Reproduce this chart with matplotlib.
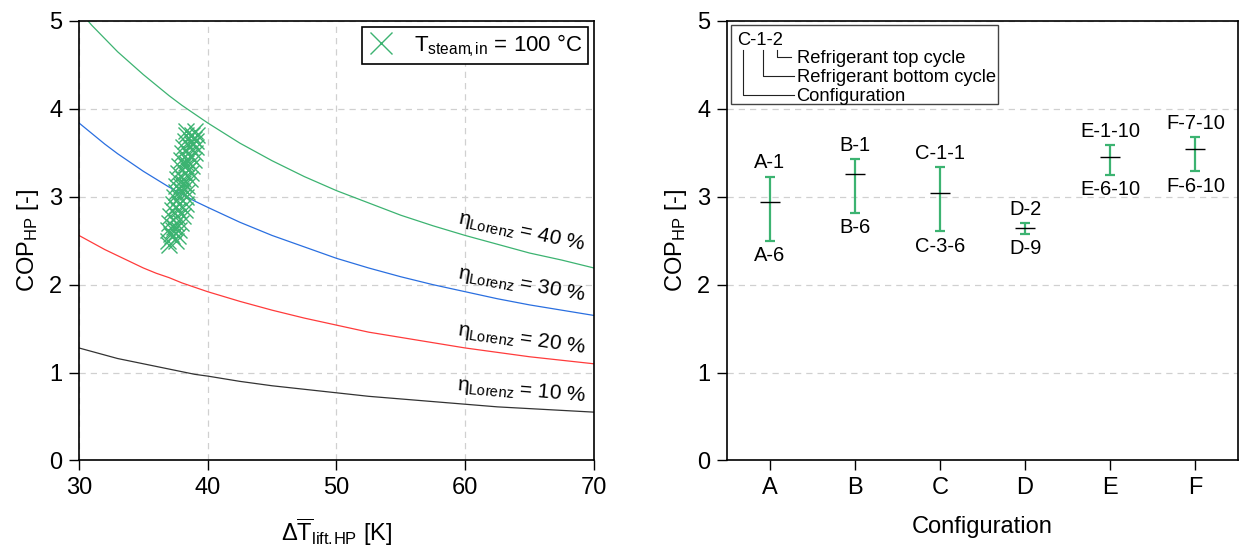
import numpy as np
import matplotlib.pyplot as plt

plt.rcParams['font.family'] = ['Liberation Sans', 'DejaVu Sans']
plt.rcParams['mathtext.fontset'] = 'custom'
plt.rcParams['mathtext.rm'] = 'Liberation Sans'
plt.rcParams['mathtext.it'] = 'Liberation Sans:italic'
plt.rcParams['mathtext.default'] = 'regular'

# left panel: Lorenz efficiency lines
dT_line = [30, 31, 32, 33, 34, 35, 36, 37, 38, 39, 40, 42.5, 45, 47.5, 50,
           52.5, 55, 57.5, 60, 62.5, 65, 67.5, 70]
cop_10 = [1.28, 1.24, 1.20, 1.16, 1.13, 1.10, 1.07, 1.04, 1.01, 0.98, 0.96, 0.90,
          0.85, 0.81, 0.77, 0.73, 0.70, 0.67, 0.64, 0.61, 0.59, 0.57, 0.55]
cop_20 = [2.56, 2.48, 2.40, 2.33, 2.26, 2.19, 2.13, 2.08, 2.02, 1.97, 1.92, 1.81,
          1.71, 1.62, 1.54, 1.46, 1.40, 1.34, 1.28, 1.23, 1.18, 1.14, 1.10]
cop_30 = [3.84, 3.72, 3.60, 3.49, 3.39, 3.29, 3.20, 3.11, 3.03, 2.95, 2.88, 2.71,
          2.56, 2.43, 2.30, 2.19, 2.09, 2.00, 1.92, 1.84, 1.77, 1.71, 1.65]
cop_40 = [5.12, 4.95, 4.80, 4.65, 4.52, 4.39, 4.27, 4.15, 4.04, 3.94, 3.84, 3.61,
          3.41, 3.23, 3.07, 2.93, 2.79, 2.67, 2.56, 2.46, 2.36, 2.28, 2.19]
eta_labels = ['10', '20', '30', '40']
eta_label_y = [0.79, 1.38, 2.0, 2.6]
eta_label_rot = [-5, -8, -10, -12]

# simulated heat pump points
dT_pts = [37.0, 36.9, 37.5, 37.2, 37.7, 36.9, 37.3, 37.8, 37.0, 37.5, 37.9,
          37.1, 37.6, 38.1, 37.2, 37.7, 38.2, 37.3, 37.8, 38.3, 37.4, 37.8, 38.3,
          37.5, 38.0, 38.4, 37.5, 37.9, 38.4, 37.6, 38.1, 38.6, 37.7, 38.2, 38.7,
          37.8, 38.3, 38.8, 37.9, 38.4, 38.9, 38.0, 38.5, 39.0, 38.1, 38.6, 39.1,
          38.2, 38.7, 39.1, 38.3, 38.8, 39.2, 38.3, 39.0,
          37.35, 37.55, 37.9, 38.05, 38.45, 38.6, 38.75, 37.15, 38.35, 38.9]
cop_pts = [2.45, 2.50, 2.50, 2.55, 2.55, 2.62, 2.62, 2.62, 2.70, 2.70, 2.70,
           2.78, 2.78, 2.78, 2.85, 2.85, 2.85, 2.92, 2.92, 2.92, 3.00, 3.00, 3.00,
           3.05, 3.05, 3.05, 3.12, 3.12, 3.12, 3.20, 3.20, 3.20, 3.27, 3.27, 3.27,
           3.35, 3.35, 3.35, 3.42, 3.42, 3.42, 3.50, 3.50, 3.50, 3.57, 3.57, 3.57,
           3.63, 3.63, 3.63, 3.70, 3.70, 3.70, 3.75, 3.75,
           2.66, 2.88, 3.08, 3.16, 3.30, 3.46, 3.60, 2.58, 3.38, 3.66]

# right panel: configurations
configs = ['A', 'B', 'C', 'D', 'E', 'F']
cop_mean = [2.94, 3.26, 3.04, 2.65, 3.45, 3.54]
cop_max = [3.23, 3.43, 3.34, 2.70, 3.59, 3.68]
cop_min = [2.50, 2.82, 2.61, 2.58, 3.25, 3.29]
lab_max = ['A-1', 'B-1', 'C-1-1', 'D-2', 'E-1-10', 'F-7-10']
lab_min = ['A-6', 'B-6', 'C-3-6', 'D-9', 'E-6-10', 'F-6-10']

green = '#3cb371'
fs = 17

fig = plt.figure(figsize=(12.4, 5.48), dpi=100)
ax1 = fig.add_axes([0.0637, 0.1597, 0.4153, 0.802])
ax2 = fig.add_axes([0.5863, 0.1597, 0.4121, 0.802])

for ax in (ax1, ax2):
    ax.tick_params(direction='out', length=7, width=1, labelsize=fs, pad=5)
    for s in ax.spines.values():
        s.set_linewidth(1.2)
    ax.set_ylim(0, 5)
    ax.set_yticks([0, 1, 2, 3, 4, 5])
    ax.set_ylabel('COP$_{HP}$ [-]', fontsize=fs, labelpad=6)
    ax.grid(True, axis='y', ls=(0, (5, 4)), color='#d0d0d0', lw=0.9)
    ax.set_axisbelow(True)

# left
ax1.grid(True, axis='x', ls=(0, (5, 4)), color='#d0d0d0', lw=0.9)
ax1.plot(dT_line, cop_10, color='#333333', lw=0.9)
ax1.plot(dT_line, cop_20, color='#ff3b3b', lw=0.9)
ax1.plot(dT_line, cop_30, color='#2a6fe0', lw=0.9)
ax1.plot(dT_line, cop_40, color=green, lw=0.9)
ax1.plot(dT_pts, cop_pts, 'x', color=green, ms=11, mew=1.0, ls='none',
         label='T$_{steam\\!,in}$ = 100 °C')
for lab, y, r in zip(eta_labels, eta_label_y, eta_label_rot):
    ax1.text(64.4, y, '$\\eta_{Lorenz}$ = ' + lab + ' %', fontsize=15,
             rotation=r, ha='center', va='center', rotation_mode='anchor')
ax1.set_xlim(30, 70)
ax1.set_xticks([30, 40, 50, 60, 70])
ax1.set_xlabel('$\\Delta\\overline{T}_{lift.\\!HP}$ [K]', fontsize=fs, labelpad=12)
leg = ax1.legend(loc='upper right', fontsize=16, markerscale=1.4, fancybox=False,
                 framealpha=1, edgecolor='black', borderaxespad=0.25,
                 handlelength=1.2, handletextpad=0.9, borderpad=0.25)
leg.get_frame().set_linewidth(1.2)

# right
x = np.arange(1, len(configs) + 1)
mean = np.array(cop_mean)
ax2.errorbar(x, mean, yerr=[mean - np.array(cop_min), np.array(cop_max) - mean],
             fmt='none', ecolor=green, elinewidth=1.6, capsize=3.5, capthick=1.6)
ax2.plot(x, mean, '_', color='black', ms=14, mew=1.0)
for xi, hi, lo, th, tl in zip(x, cop_max, cop_min, lab_max, lab_min):
    ax2.annotate(th, (xi, hi), xytext=(0, 3), textcoords='offset points',
                 ha='center', va='bottom', fontsize=14.5)
    ax2.annotate(tl, (xi, lo), xytext=(0, -4), textcoords='offset points',
                 ha='center', va='top', fontsize=14.5)
ax2.set_xlim(0.5, 6.5)
ax2.set_xticks(x)
ax2.set_xticklabels(configs)
ax2.set_xlabel('Configuration', fontsize=fs, labelpad=12)

# naming key box
T = ax2.transAxes
ax2.add_patch(plt.Rectangle((0.0072, 0.811), 0.523, 0.180, transform=T,
                            fill=True, facecolor='white', edgecolor='#444444', lw=1.0))
ax2.text(0.019, 0.945, 'C-1-2', transform=T, fontsize=13.2, va='baseline', ha='left')
ax2.text(0.136, 0.904, 'Refrigerant top cycle', transform=T, fontsize=13.2, va='baseline')
ax2.text(0.136, 0.861, 'Refrigerant bottom cycle', transform=T, fontsize=13.2, va='baseline')
ax2.text(0.136, 0.818, 'Configuration', transform=T, fontsize=13.2, va='baseline')
ax2.plot([0.0307, 0.0307, 0.132], [0.934, 0.832, 0.832], color='#222222', lw=0.8, transform=T)
ax2.plot([0.0698, 0.0698, 0.132], [0.934, 0.875, 0.875], color='#222222', lw=0.8, transform=T)
ax2.plot([0.0984, 0.0984, 0.125], [0.933, 0.917, 0.917], color='#222222', lw=0.8, transform=T)

fig.savefig('out.png', dpi=100)
